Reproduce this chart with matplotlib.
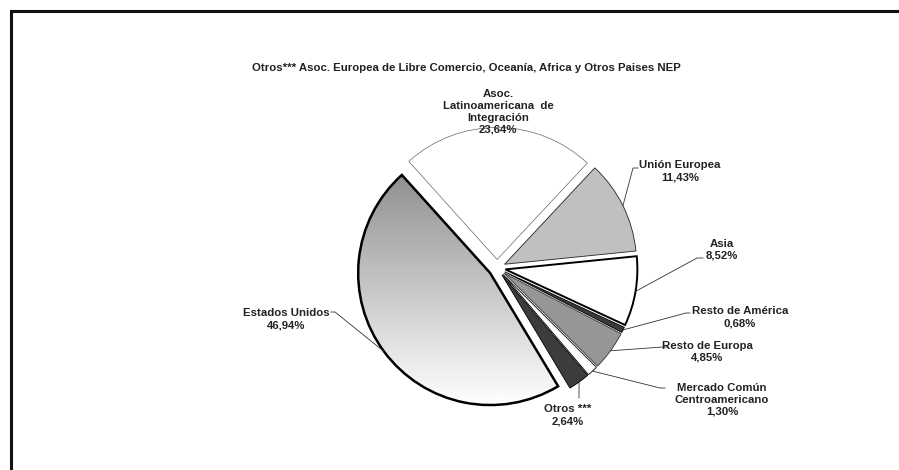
import numpy as np
import matplotlib.pyplot as plt
from matplotlib.patches import Rectangle

plt.rcParams['font.family'] = ['Liberation Sans', 'DejaVu Sans']

# data
regions = ['Asoc.\nLatinoamericana  de\nIntegración', 'Unión Europea', 'Asia',
           'Resto de América', 'Resto de Europa', 'Mercado Común\nCentroamericano',
           'Otros ***', 'Estados Unidos']
shares = [23.64, 11.43, 8.52, 0.68, 4.85, 1.30, 2.64, 46.94]
title = 'Otros*** Asoc. Europea de Libre Comercio, Oceanía, Africa y Otros Paises NEP'

# styles
colors = ['white', '#c0c0c0', 'white', '#3a3a3a', '#969696', 'white', '#3c3c3c', 'none']
edge_w = [0.5, 0.6, 1.4, 0.6, 0.6, 0.6, 0.6, 1.8]
edge_c = ['#666666', '#222222', 'black', 'black', '#333333', 'black', 'black', 'black']

W, H = 899, 470
pie_center = (497, H - 268)
pie_radius = 132
gap = 8.5

# label layout (pixel coords, y from top): text center, leader elbow points
label_pos = [(498, 112), (680, 171), (722, 250), (740, 317),
             (707, 352), (722, 400), (568, 415), (286, 319)]
leaders = [None,
           [(633, 168), (638, 168)],
           [(697, 258), (703, 258)],
           [(686, 313), (690, 313)],
           [(663, 347), (668, 347)],
           [(660, 388), (665, 388)],
           [(579, 398)],
           [(335, 312), (331, 312)]]

fig = plt.figure(figsize=(W / 100, H / 100), dpi=100)
ax = fig.add_axes([0, 0, 1, 1])

wedges, _ = ax.pie(shares, startangle=132, counterclock=False, center=pie_center,
                   radius=pie_radius, explode=[gap] * len(shares), colors=colors)
for w, lw, ec in zip(wedges, edge_w, edge_c):
    w.set_linewidth(lw)
    w.set_edgecolor(ec)

# gradient fill for Estados Unidos
us = wedges[-1]
cx, cy = us.center
grad = np.linspace(1.0, 0.5, 256).reshape(-1, 1)
im = ax.imshow(grad, cmap='gray', vmin=0, vmax=1, origin='lower', aspect='auto',
               extent=(cx - pie_radius, cx + pie_radius, cy - pie_radius, cy + pie_radius),
               zorder=us.get_zorder() - 0.1)
im.set_clip_path(us)

for i, (name, val) in enumerate(zip(regions, shares)):
    tx, ty = label_pos[i]
    txt = name + '\n' + f'{val:.2f}%'.replace('.', ',')
    ax.text(tx, H - ty, txt, ha='center', va='center', fontsize=8.2, fontweight='bold',
            color='#222222', linespacing=1.25)
    if leaders[i] is None:
        continue
    w = wedges[i]
    tm = np.deg2rad((w.theta1 + w.theta2) / 2)
    x0 = w.center[0] + pie_radius * np.cos(tm)
    y0 = w.center[1] + pie_radius * np.sin(tm)
    xs = [x0] + [p[0] for p in leaders[i]]
    ys = [y0] + [H - p[1] for p in leaders[i]]
    ax.plot(xs, ys, color='#333333', lw=0.6)

ax.text(466, H - 68, title, ha='center', va='center', fontsize=8.2, fontweight='bold',
        color='#222222')

ax.set_xlim(0, W)
ax.set_ylim(0, H)
ax.set_aspect('equal')
ax.axis('off')

# outer frame
fig.patches.append(Rectangle((11 / W, -0.1), 1.2, (H - 11) / H + 0.1, transform=fig.transFigure,
                             fill=False, lw=2.2, edgecolor='#111111'))

fig.savefig('out.png', dpi=100)
